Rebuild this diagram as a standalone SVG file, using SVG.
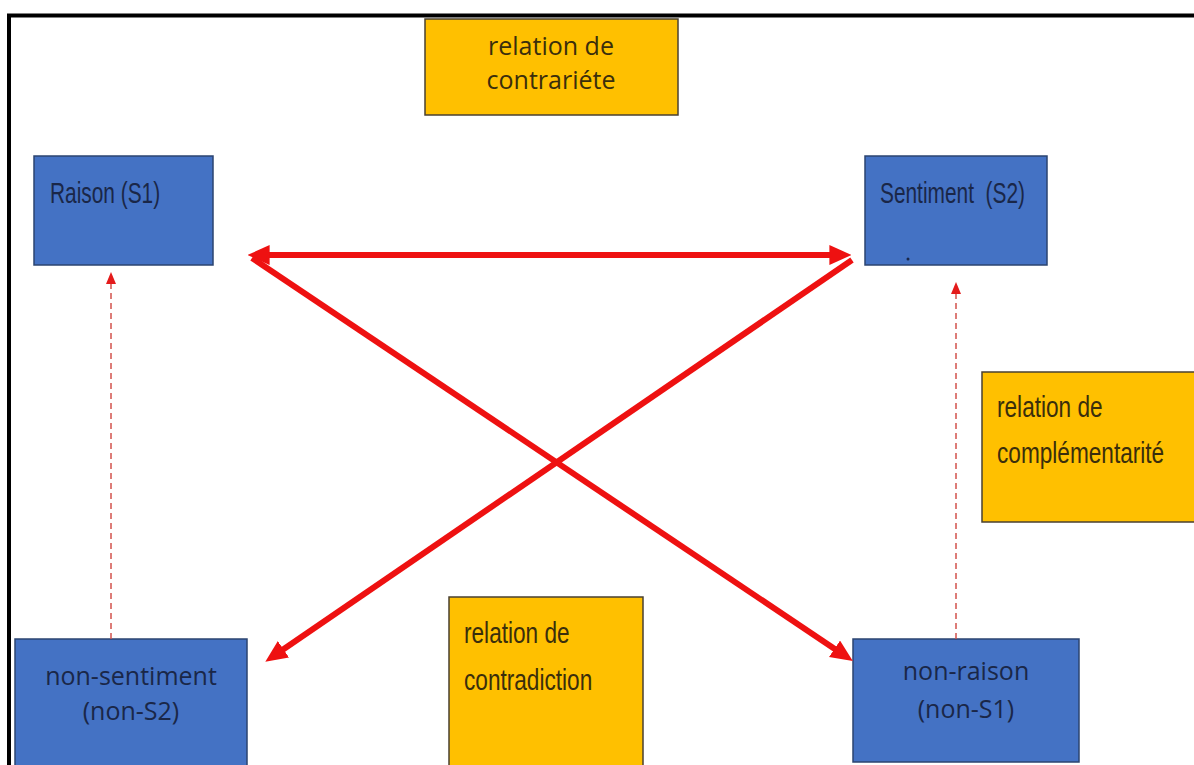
<svg xmlns="http://www.w3.org/2000/svg" width="1194" height="765" viewBox="0 0 1194 765">
<style>
.blue{fill:#4472C4;stroke:#2b4470;stroke-width:1.5}
.yel{fill:#FFC000;stroke:#4a4030;stroke-width:1.5}
.tb{fill:#1a2748}
.ty{fill:#3a2e0c}
.os{font-family:"Open Sans","Liberation Sans",sans-serif;font-size:25px}
.cn{font-family:"Liberation Sans",Arial,sans-serif}
.red{stroke:#ee1111;stroke-width:6;fill:none}
.dash{stroke:#d2524c;stroke-width:1.5;stroke-dasharray:6,4;fill:none}
</style>
<defs>
<marker id="big" viewBox="0 0 20 18" refX="6" refY="9" markerWidth="22" markerHeight="20" markerUnits="userSpaceOnUse" orient="auto-start-reverse">
<path d="M0,0 L20,9 L0,18 Z" fill="#ee1111"/>
</marker>
<marker id="small" viewBox="0 0 12 10" refX="0" refY="5" markerWidth="12" markerHeight="10" markerUnits="userSpaceOnUse" orient="auto">
<path d="M0,0 L12,5 L0,10 Z" fill="#e41b1b"/>
</marker>
</defs>
<rect x="0" y="0" width="1194" height="765" fill="#ffffff"/>
<path d="M9,765 V15.5 H1194" fill="none" stroke="#000" stroke-width="4"/>

<g id="label-contrariete">
<rect class="yel" x="425" y="19" width="253" height="96"/>
<text class="os ty" x="551" y="55" text-anchor="middle" font-size="24">relation de</text>
<text class="os ty" x="551" y="89" text-anchor="middle" font-size="24">contrariéte</text>
</g>

<g id="node-raison">
<rect class="blue" x="34" y="156" width="179" height="109"/>
<text class="cn tb" transform="translate(50,203) scale(0.72,1)" font-size="29">Raison (S1)</text>
</g>

<g id="node-sentiment">
<rect class="blue" x="865" y="156" width="182" height="109"/>
<text class="cn tb" transform="translate(880,203) scale(0.72,1)" font-size="29" xml:space="preserve">Sentiment  (S2)</text>
<circle cx="908" cy="259" r="1.5" fill="#1a2748"/>
</g>

<g id="label-complementarite">
<rect class="yel" x="982" y="372" width="225" height="150"/>
<text class="cn ty" transform="translate(997,417) scale(0.78,1)" font-size="29">relation de</text>
<text class="cn ty" transform="translate(997,463) scale(0.78,1)" font-size="29">complémentarité</text>
</g>

<g id="node-non-sentiment">
<rect class="blue" x="15" y="639" width="232" height="135"/>
<text class="os tb" x="131" y="685" text-anchor="middle">non-sentiment</text>
<text class="os tb" x="131" y="720" text-anchor="middle">(non-S2)</text>
</g>

<g id="label-contradiction">
<rect class="yel" x="449" y="597" width="194" height="175"/>
<text class="cn ty" transform="translate(464,643) scale(0.78,1)" font-size="29">relation de</text>
<text class="cn ty" transform="translate(464,690) scale(0.78,1)" font-size="29">contradiction</text>
</g>

<g id="node-non-raison">
<rect class="blue" x="853" y="639" width="226" height="123"/>
<text class="os tb" x="966" y="680" text-anchor="middle">non-raison</text>
<text class="os tb" x="966" y="718" text-anchor="middle">(non-S1)</text>
</g>

<g id="connectors">
<line class="red" x1="263" y1="255" x2="836" y2="255" marker-start="url(#big)" marker-end="url(#big)"/>
<line class="red" x1="252" y1="258" x2="840" y2="652.5" marker-end="url(#big)"/>
<line class="red" x1="852" y1="260" x2="278" y2="653" marker-end="url(#big)"/>
<line class="dash" x1="111" y1="639" x2="111" y2="284" marker-end="url(#small)"/>
<line class="dash" x1="956" y1="639" x2="956" y2="294" marker-end="url(#small)"/>
</g>
</svg>
